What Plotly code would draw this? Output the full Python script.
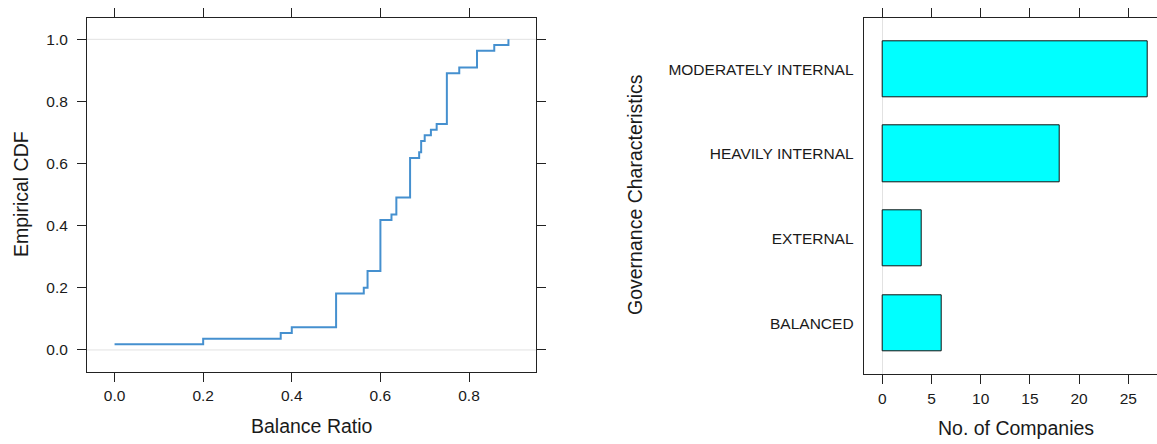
import numpy as np
import plotly.graph_objects as go

# ---- data ----
ratio_values = [0.0, 0.2, 0.375, 0.4, 0.5, 0.5625, 0.571, 0.6, 0.625, 0.636,
                0.667, 0.6875, 0.692, 0.7, 0.714, 0.727, 0.75, 0.778, 0.818,
                0.857, 0.889]
ratio_counts = [1, 1, 1, 1, 6, 1, 3, 9, 1, 3, 7, 1, 2, 1, 1, 1, 9, 1, 3, 1, 1]

categories = ["BALANCED", "EXTERNAL", "HEAVILY INTERNAL", "MODERATELY INTERNAL"]
companies = [6, 4, 18, 27]

x_ticks_left = [0.0, 0.2, 0.4, 0.6, 0.8]
y_ticks_left = [0.0, 0.2, 0.4, 0.6, 0.8, 1.0]
x_ticks_right = [0, 5, 10, 15, 20, 25]

ecdf = np.cumsum(ratio_counts) / np.sum(ratio_counts)

W, H = 1157, 444
FONT = "Liberation Sans, Arial, sans-serif"
TXT = "#1a1a1a"

def px(x):
    return x / W

def py(y):
    return 1 - y / H

fig = go.Figure()

fig.add_trace(go.Scatter(
    x=ratio_values, y=ecdf, mode="lines", line_shape="hv",
    line=dict(color="#4590cf", width=2),
    xaxis="x", yaxis="y", showlegend=False,
))

fig.add_trace(go.Bar(
    x=companies, y=categories, orientation="h", width=2/3,
    marker=dict(color="#00ffff", line=dict(color="#111111", width=1)),
    xaxis="x2", yaxis="y2", showlegend=False,
))

# reference lines at 0 and 1 of the ECDF
for v in (0.0, 1.0):
    fig.add_shape(type="line", xref="x domain", yref="y", x0=0, x1=1, y0=v, y1=v,
                  line=dict(color="#e2e2e2", width=1), layer="below")

axis_common = dict(
    showline=True, linecolor="#222222", linewidth=1,
    ticks="outside", ticklen=9, tickcolor="#222222", tickwidth=1,
    showgrid=False, zeroline=False,
    tickfont=dict(family=FONT, size=15.5, color=TXT),
    automargin=False,
)

fig.update_layout(
    width=W, height=H,
    margin=dict(l=0, r=0, t=0, b=0),
    paper_bgcolor="white", plot_bgcolor="white",
    xaxis=dict(axis_common, domain=[px(87), px(536)], range=[-0.0622, 0.9512],
               tickvals=x_ticks_left, ticktext=[f"{v:.1f}" for v in x_ticks_left],
               mirror="ticks", anchor="y", ticklabelstandoff=1),
    yaxis=dict(axis_common, domain=[py(371.7), py(17.6)], range=[-0.07, 1.07],
               tickvals=y_ticks_left, ticktext=[f"{v:.1f}" for v in y_ticks_left],
               mirror="ticks", anchor="x", ticklabelstandoff=6),
    xaxis2=dict(axis_common, domain=[px(863.7), 1], range=[-1.89, (W - 882.3) / 9.84],
                tickvals=x_ticks_right, mirror="ticks", anchor="y2",
                zeroline=True, zerolinecolor="#e2e2e2", zerolinewidth=1,
                ticklabelstandoff=1),
    yaxis2=dict(axis_common, domain=[py(374), py(18.3)], range=[-0.6, 3.6],
                type="category", categoryorder="array", categoryarray=categories,
                ticks="", mirror=False, anchor="x2", ticklabelstandoff=6),
    bargap=0,
)

ann = dict(xref="paper", yref="paper", showarrow=False,
           font=dict(family=FONT, size=19.5, color=TXT))
fig.add_annotation(ann, text="Balance Ratio", x=px(311.7), y=py(425.7),
                   xanchor="center", yanchor="middle")
fig.add_annotation(ann, text="No. of Companies", x=px(1015.8), y=py(428.3),
                   xanchor="center", yanchor="middle")
fig.add_annotation(ann, text="Empirical CDF", x=px(21), y=py(194),
                   xanchor="center", yanchor="middle", textangle=-90)
fig.add_annotation(ann, text="Governance Characteristics", x=px(635), y=py(195),
                   xanchor="center", yanchor="middle", textangle=-90)

fig.write_html(
    "out.html",
    config={"displayModeBar": False},
    post_script="document.body.style.margin='0';document.body.style.overflow='hidden';",
)
